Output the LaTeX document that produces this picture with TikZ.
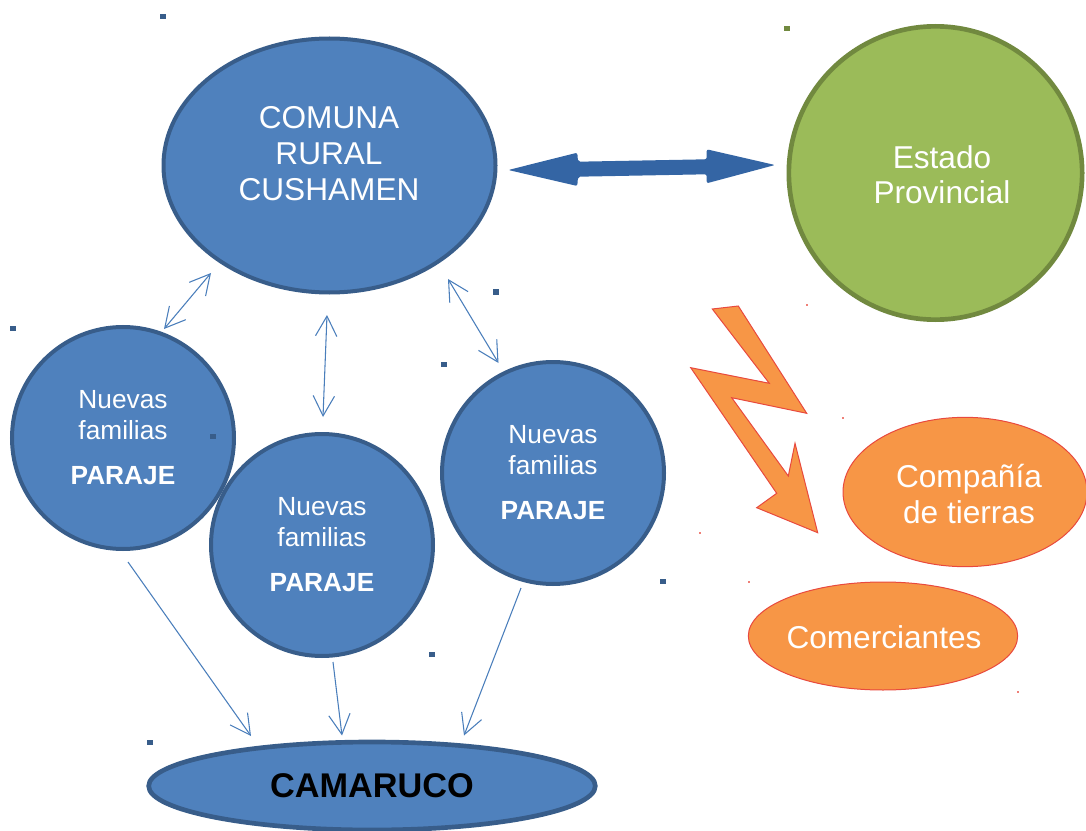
\documentclass[tikz,border=0pt]{standalone}
\usepackage{fontspec}
\setmainfont{Liberation Sans}
\usetikzlibrary{arrows.meta,shapes.geometric}
\definecolor{bfill}{HTML}{4F81BD}
\definecolor{bline}{HTML}{385D8A}
\definecolor{gfill}{HTML}{9BBB59}
\definecolor{gline}{HTML}{71893F}
\definecolor{ofill}{HTML}{F79646}
\definecolor{oline}{HTML}{E8493E}
\definecolor{thinc}{HTML}{4A7EBB}
\definecolor{bigc}{HTML}{3465A4}
\begin{document}
\begin{tikzpicture}[x=0.75pt,y=-0.75pt,
  bluecirc/.style={circle,fill=bfill,draw=bline,line width=3pt,minimum size=166.5pt,inner sep=0pt,
    text=white,align=center,font=\fontsize{19.7}{23.25}\selectfont},
  bigtext/.style={text=white,align=center,inner sep=0pt,font=\fontsize{23.7}{26.5}\selectfont},
  orangeell/.style={ellipse,fill=ofill,draw=oline,line width=0.75pt,inner sep=0pt},
  thinarr/.style={draw=thinc,line width=0.8pt},
  tipb/.tip={Straight Barb[length=15pt,width=16pt]},
  dotsq/.style={fill=bline},
]
\useasboundingbox (0,0) rectangle (1086,831);

% main shapes
\node[ellipse,fill=bfill,draw=bline,line width=3pt,minimum width=249pt,minimum height=190.5pt,inner sep=0pt] (comuna) at (329.5,165.5) {};
\node[bigtext,font=\fontsize{23.7}{27}\selectfont] (comunaT) at (329,154) {COMUNA\\RURAL\\CUSHAMEN};

\node[circle,fill=gfill,draw=gline,line width=3.5pt,minimum size=220pt,inner sep=0pt] (estado) at (935.5,173) {};
\node[bigtext] (estadoT) at (942,175) {Estado\\Provincial};

\node[bluecirc] (nf1) at (123,438) {Nuevas\\familias\\[10.5pt]\textbf{PARAJE}};
\node[bluecirc] (nf2) at (322,545) {Nuevas\\familias\\[10.5pt]\textbf{PARAJE}};
\node[bluecirc] (nf3) at (553,473) {Nuevas\\familias\\[10.5pt]\textbf{PARAJE}};

\node[ellipse,fill=bfill,draw=bline,line width=3.5pt,minimum width=335pt,minimum height=66pt,inner sep=0pt,
  font=\fontsize{25.7}{28}\selectfont\bfseries] (camaruco) at (372,786) {CAMARUCO};

\node[orangeell,minimum width=183pt,minimum height=112pt] (compania) at (965,492) {};
\node[bigtext] (companiaT) at (969,494) {Compañía\\de tierras};
\node[orangeell,minimum width=202pt,minimum height=81pt] (comerc) at (883,636) {};
\node[bigtext] (comercT) at (884,637) {Comerciantes};

% big double arrow (block arrow between COMUNA and Estado)
\coordinate (bigL) at (508.3,170);
\coordinate (bigR) at (775,165);
\fill[bigc,rounded corners=1.5pt] (bigL) -- (577.3,152.7) -- (578,161.7) -- (706.7,159.3) -- (706.7,149.3)
  -- (bigR) -- (706.7,183.3) -- (706.7,174.3) -- (578,176.7) -- (577.3,186) -- cycle;

% thin double arrows
\coordinate (a1s) at (164,329); \coordinate (a1e) at (211,273);
\coordinate (a2s) at (323,417); \coordinate (a2e) at (327,315);
\coordinate (a3s) at (498.5,363); \coordinate (a3e) at (448,279);
\draw[thinarr,tipb-tipb] (a1s) -- (a1e);
\draw[thinarr,tipb-tipb] (a2s) -- (a2e);
\draw[thinarr,tipb-tipb] (a3s) -- (a3e);

% thin single arrows to CAMARUCO
\coordinate (b1s) at (128,562); \coordinate (b1e) at (251,736);
\coordinate (b2s) at (333,662); \coordinate (b2e) at (342,735.5);
\coordinate (b3s) at (521,588); \coordinate (b3e) at (464,735.5);
\draw[thinarr,-tipb] (b1s) -- (b1e);
\draw[thinarr,-tipb] (b2s) -- (b2e);
\draw[thinarr,-tipb] (b3s) -- (b3e);

% lightning arrow
\filldraw[fill=ofill,draw=oline,line width=0.75pt,line join=miter]
  (712.3,309) -- (738.3,306) -- (806.7,413.3) -- (731.7,397.7) -- (788.3,476) -- (795,443.3)
  -- (817.7,532.7) -- (756.7,507.7) -- (776.7,493.3) -- (690.7,367.7) -- (769.3,383.3) -- cycle;

% small squares
\foreach \px/\py in {163/17,13/328,496/292,444/364,213/436,663/581,432/654,150/742}
  \fill[dotsq] (\px-3,\py-2.5) rectangle (\px+3,\py+2.5);
\fill[gline] (784,26.5) rectangle (790,31.5);
% tiny red specks
\foreach \px/\py in {807/305,843/418,700/533,749/582,1018/692}
  \fill[oline!70] (\px-0.7,\py-0.7) rectangle (\px+0.7,\py+0.7);
\end{tikzpicture}
\end{document}
